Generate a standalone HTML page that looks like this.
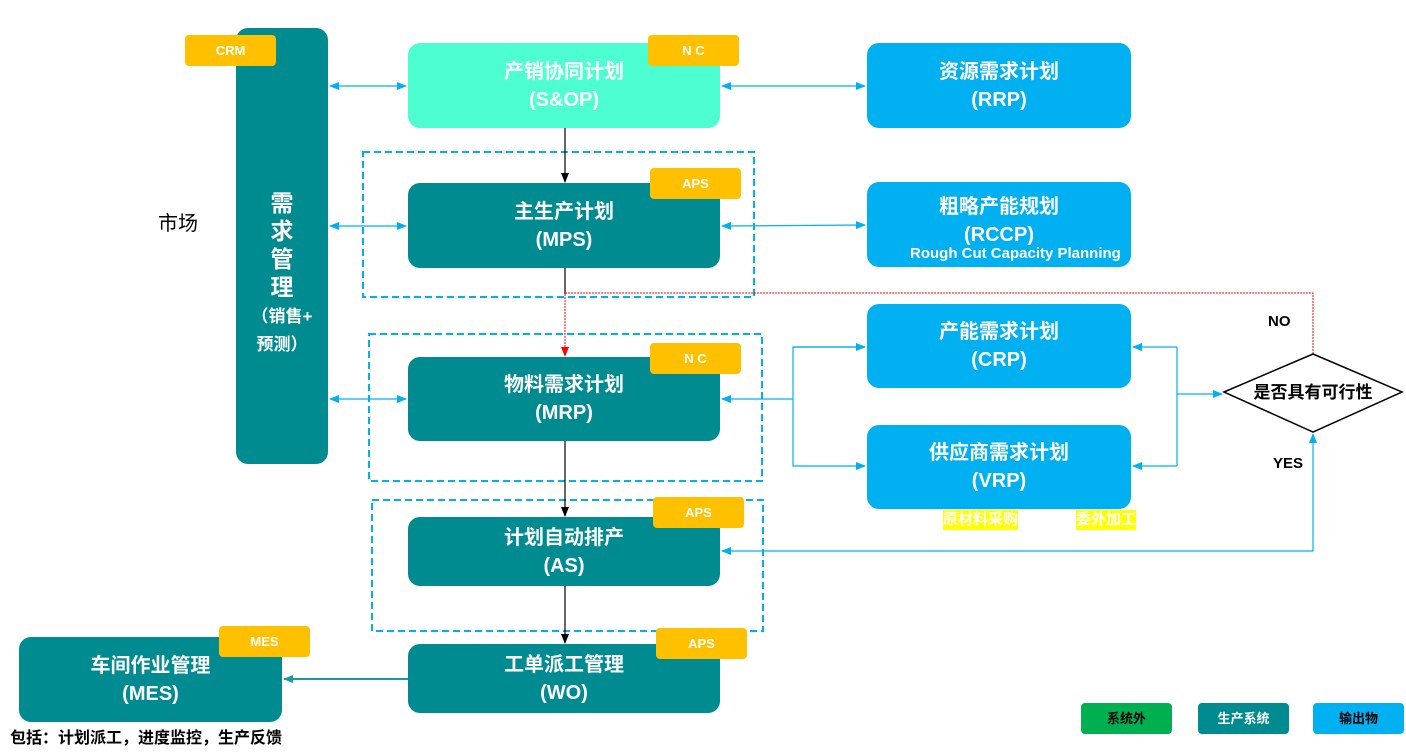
<!DOCTYPE html>
<html><head><meta charset="utf-8"><style>
body{margin:0;width:1406px;height:752px;background:#fff;position:relative;overflow:hidden;font-family:"Liberation Sans","Noto Sans CJK SC",sans-serif;}
.b{position:absolute;border-radius:12px;color:#fff;text-align:center;font-size:20px;font-weight:bold;line-height:28px;box-sizing:border-box;display:flex;flex-direction:column;justify-content:center;}
.t{background:#008b91}.c{background:#00b0f0}
.tag{position:absolute;background:#ffc000;color:#fff;border-radius:4px;font-size:13px;font-weight:bold;text-align:center;line-height:31px;width:91px;height:31px;}
.lg{position:absolute;top:703px;width:91px;height:31px;border-radius:4px;color:#000;font-size:13px;font-weight:bold;text-align:center;line-height:31px;}
.y{position:absolute;background:#ffff00;color:#fff;font-size:15px;font-weight:bold;line-height:20px;}
svg{position:absolute;left:0;top:0}
</style></head><body>
<svg width="1406" height="752">
<defs>
<marker id="a" markerWidth="10" markerHeight="10" refX="9" refY="5" orient="auto" markerUnits="userSpaceOnUse"><path d="M0,1 L10,5 L0,9z" fill="#00b0f0"/></marker>
<marker id="as" markerWidth="10" markerHeight="10" refX="1" refY="5" orient="auto" markerUnits="userSpaceOnUse"><path d="M10,1 L0,5 L10,9z" fill="#00b0f0"/></marker>
<marker id="k" markerWidth="10" markerHeight="10" refX="9" refY="5" orient="auto" markerUnits="userSpaceOnUse"><path d="M0,1 L10,5 L0,9z" fill="#000"/></marker>
<marker id="r" markerWidth="10" markerHeight="10" refX="9" refY="5" orient="auto" markerUnits="userSpaceOnUse"><path d="M0,1 L10,5 L0,9z" fill="#f00"/></marker>
<marker id="g" markerWidth="10" markerHeight="10" refX="9" refY="5" orient="auto" markerUnits="userSpaceOnUse"><path d="M0,1 L10,5 L0,9z" fill="#1a9aa0"/></marker>
</defs>
<g fill="none" stroke-width="2" stroke="#00b0f0" stroke-dasharray="7,4">
<rect x="363" y="152" width="391" height="145"/>
<rect x="369" y="334" width="393" height="147"/>
<rect x="372" y="500" width="391" height="131"/>
</g>
<g stroke="#00b0f0" stroke-width="1.2" fill="none">
<line x1="330" y1="86" x2="406" y2="86" marker-start="url(#as)" marker-end="url(#a)"/>
<line x1="330" y1="226" x2="406" y2="226" marker-start="url(#as)" marker-end="url(#a)"/>
<line x1="330" y1="399" x2="406" y2="399" marker-start="url(#as)" marker-end="url(#a)"/>
<line x1="722" y1="86" x2="865" y2="86" marker-start="url(#as)" marker-end="url(#a)"/>
<line x1="722" y1="226" x2="865" y2="225" marker-start="url(#as)" marker-end="url(#a)"/>
<line x1="793" y1="399" x2="722" y2="399" marker-end="url(#a)"/>
<polyline points="865,347 793,347 793,466 865,466" marker-end="url(#a)"/>
<line x1="793" y1="347" x2="865" y2="347" marker-end="url(#a)"/>
<line x1="1177" y1="347" x2="1177" y2="466"/>
<line x1="1177" y1="347" x2="1133" y2="347" marker-end="url(#a)"/>
<line x1="1177" y1="466" x2="1133" y2="466" marker-end="url(#a)"/>
<line x1="1177" y1="394" x2="1222" y2="394" marker-end="url(#a)"/>
<polyline points="722,551 1313,551 1313,434" marker-start="url(#as)" marker-end="url(#a)"/>
</g>
<g stroke="#000" stroke-width="1.2">
<line x1="565" y1="128" x2="565" y2="182" marker-end="url(#k)"/>
<line x1="565" y1="268" x2="565" y2="294"/>
<line x1="565" y1="441" x2="565" y2="516" marker-end="url(#k)"/>
<line x1="565" y1="586" x2="565" y2="643" marker-end="url(#k)"/>
</g>
<polyline points="1313,354 1313,293 565,293 565,356" fill="none" stroke="#f00" stroke-width="1" stroke-dasharray="2,1" marker-end="url(#r)"/>
<line x1="408" y1="679" x2="284" y2="679" stroke="#1a9aa0" stroke-width="2" marker-end="url(#g)"/>
<polygon points="1224,392 1313,354 1402,392 1313,432" fill="#fff" stroke="#000" stroke-width="1.5"/>
<text x="1313" y="398" text-anchor="middle" font-size="17" font-weight="bold" font-family="Liberation Sans,Noto Sans CJK SC,sans-serif">是否具有可行性</text>
</svg>
<div class="b t" style="left:236px;top:28px;width:92px;height:436px;font-size:23px;line-height:28px;padding-top:56px;"><div>需<br>求<br>管<br>理</div><div style="font-size:17px;line-height:28px;margin-top:2px">（销售+<br>预测）</div></div>
<div class="tag" style="left:185px;top:35px;">CRM</div>
<div style="position:absolute;left:158px;top:207px;font-size:20px;">市场</div>
<div class="b" style="left:408px;top:43px;width:312px;height:85px;background:#4dffd0;">产销协同计划<br>(S&amp;OP)</div>
<div class="tag" style="left:648px;top:35px;">N C</div>
<div class="b c" style="left:867px;top:43px;width:264px;height:85px;">资源需求计划<br>(RRP)</div>
<div class="b t" style="left:408px;top:183px;width:312px;height:85px;">主生产计划<br>(MPS)</div>
<div class="tag" style="left:650px;top:168px;">APS</div>
<div class="b c" style="left:867px;top:182px;width:264px;height:85px;padding-bottom:8px;">粗略产能规划<br>(RCCP)</div>
<div style="position:absolute;left:910px;top:245px;color:#fff;font-size:15px;font-weight:bold;white-space:nowrap;width:222px;overflow:hidden;">Rough Cut Capacity Planning</div>
<div class="b t" style="left:408px;top:357px;width:312px;height:84px;">物料需求计划<br>(MRP)</div>
<div class="tag" style="left:650px;top:343px;">N C</div>
<div class="b c" style="left:867px;top:304px;width:264px;height:84px;">产能需求计划<br>(CRP)</div>
<div class="b c" style="left:867px;top:425px;width:264px;height:84px;">供应商需求计划<br>(VRP)</div>
<div class="y" style="left:943px;top:510px;">原材料采购</div>
<div class="y" style="left:1076px;top:510px;">委外加工</div>
<div style="position:absolute;left:1268px;top:313px;font-size:15px;font-weight:bold;">NO</div>
<div style="position:absolute;left:1273px;top:455px;font-size:15px;font-weight:bold;">YES</div>
<div class="b t" style="left:408px;top:517px;width:312px;height:69px;">计划自动排产<br>(AS)</div>
<div class="tag" style="left:653px;top:497px;">APS</div>
<div class="b t" style="left:408px;top:644px;width:312px;height:69px;">工单派工管理<br>(WO)</div>
<div class="tag" style="left:656px;top:628px;">APS</div>
<div class="b t" style="left:19px;top:637px;width:263px;height:85px;">车间作业管理<br>(MES)</div>
<div class="tag" style="left:219px;top:626px;">MES</div>
<div style="position:absolute;left:10px;top:724px;font-size:16px;font-weight:bold;">包括：计划派工，进度监控，生产反馈</div>
<div class="lg" style="left:1081px;background:#00b050;">系统外</div>
<div class="lg" style="left:1198px;background:#008b91;color:#fff;">生产系统</div>
<div class="lg" style="left:1313px;background:#00b0f0;">输出物</div>
</body></html>
